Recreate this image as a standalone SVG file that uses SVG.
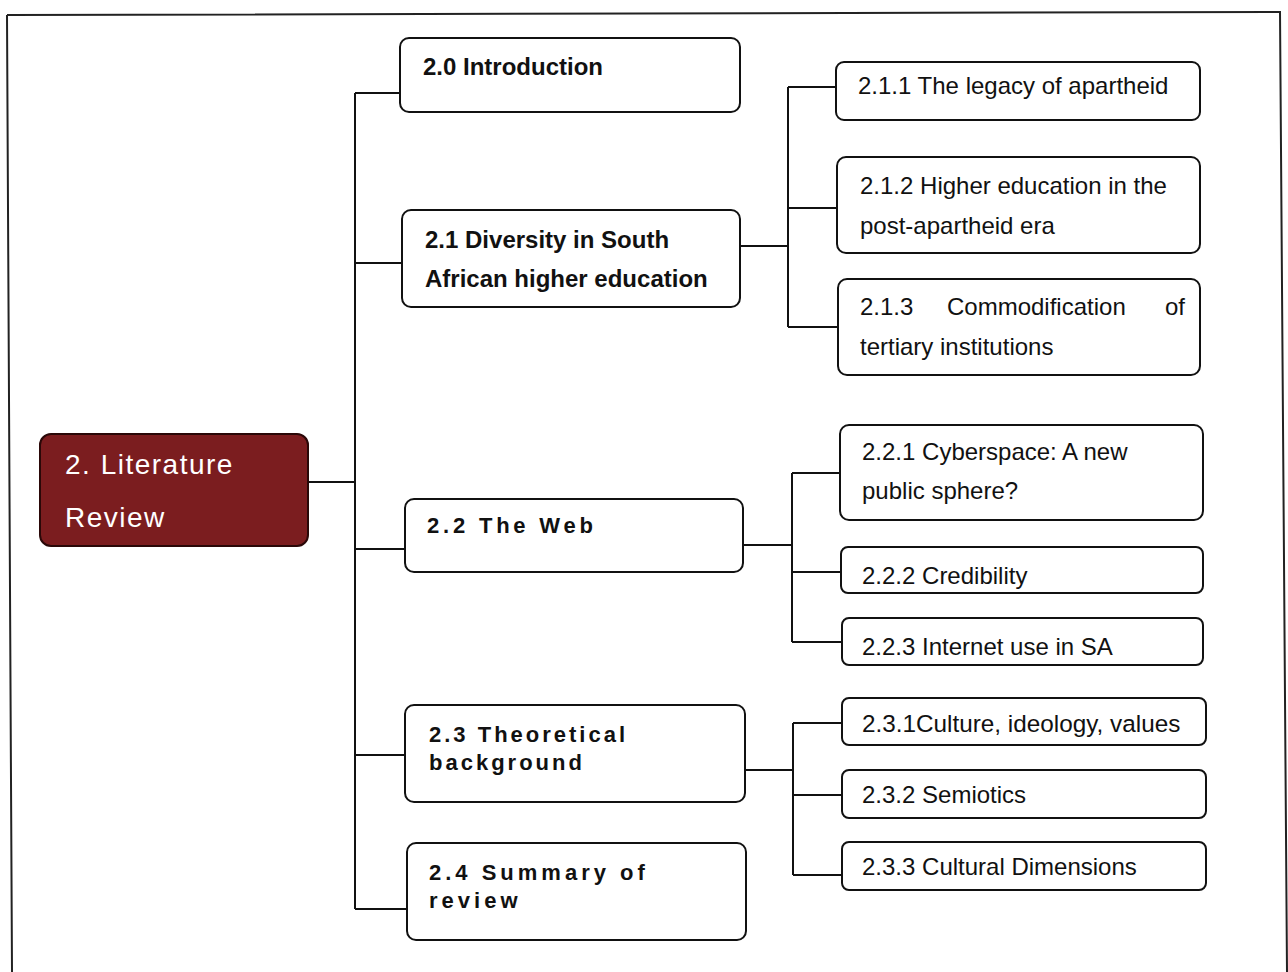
<svg xmlns="http://www.w3.org/2000/svg" width="1288" height="972" viewBox="0 0 1288 972">
<style>
.box{fill:#fff;stroke:#111;stroke-width:2}
.root{fill:#7b1d1f;stroke:#2a0808;stroke-width:2}
.t{font-family:"Liberation Sans",Arial,sans-serif;font-size:24px;fill:#111}
.b{font-weight:bold}
.sp{font-size:22px;letter-spacing:3.5px;font-weight:bold}
.w{font-size:28px;fill:#fff;letter-spacing:1.5px}
.c{fill:none;stroke:#111;stroke-width:2}
.frame{fill:none;stroke:#222;stroke-width:2}
</style>
<rect width="1288" height="972" fill="#fff"/>
<path class="frame" d="M7,15 L1280,12 L1287,972 M7,15 L12,972"/>
<g id="connectors">
<path class="c" d="M308,482 H355 M355,93 V909 M355,93 H400 M355,263 H402 M355,549 H405 M355,755 H405 M355,909 H407"/>
<path class="c" d="M740,246 H788 M788,87 V327 M788,87 H836 M788,208 H837 M788,327 H838"/>
<path class="c" d="M743,545 H792 M792,473 V642 M792,473 H840 M792,572 H841 M792,642 H842"/>
<path class="c" d="M745,770 H793 M793,723 V875 M793,723 H842 M793,795 H842 M793,875 H842"/>
</g>
<g id="root">
<rect class="root" x="40" y="434" width="268" height="112" rx="11"/>
<text class="t w" x="65" y="474">2. Literature</text>
<text class="t w" x="65" y="527">Review</text>
</g>
<g id="n20">
<rect class="box" x="400" y="38" width="340" height="74" rx="9"/>
<text class="t b" x="423" y="75">2.0 Introduction</text>
</g>
<g id="n21">
<rect class="box" x="402" y="210" width="338" height="97" rx="9"/>
<text class="t b" x="425" y="248">2.1 Diversity in South</text>
<text class="t b" x="425" y="287">African higher education</text>
</g>
<g id="n22">
<rect class="box" x="405" y="499" width="338" height="73" rx="9"/>
<text class="t sp" x="427" y="533" style="letter-spacing:3.8px">2.2 The Web</text>
</g>
<g id="n23">
<rect class="box" x="405" y="705" width="340" height="97" rx="9"/>
<text class="t sp" x="429" y="742" style="letter-spacing:3px">2.3 Theoretical</text>
<text class="t sp" x="429" y="770" style="letter-spacing:3px">background</text>
</g>
<g id="n24">
<rect class="box" x="407" y="843" width="339" height="97" rx="9"/>
<text class="t sp" x="429" y="880" style="letter-spacing:4px">2.4 Summary of</text>
<text class="t sp" x="429" y="908" style="letter-spacing:4px">review</text>
</g>
<g id="n211">
<rect class="box" x="836" y="62" width="364" height="58" rx="8"/>
<text class="t" x="858" y="94">2.1.1 The legacy of apartheid</text>
</g>
<g id="n212">
<rect class="box" x="837" y="157" width="363" height="96" rx="9"/>
<text class="t" x="860" y="194">2.1.2 Higher education in the</text>
<text class="t" x="860" y="234">post-apartheid era</text>
</g>
<g id="n213">
<rect class="box" x="838" y="279" width="362" height="96" rx="9"/>
<text class="t" x="860" y="315">2.1.3</text>
<text class="t" x="947" y="315">Commodification</text>
<text class="t" x="1165" y="315">of</text>
<text class="t" x="860" y="355">tertiary institutions</text>
</g>
<g id="n221">
<rect class="box" x="840" y="425" width="363" height="95" rx="9"/>
<text class="t" x="862" y="460">2.2.1 Cyberspace: A new</text>
<text class="t" x="862" y="499">public sphere?</text>
</g>
<g id="n222">
<rect class="box" x="841" y="547" width="362" height="46" rx="7"/>
<text class="t" x="862" y="584">2.2.2 Credibility</text>
</g>
<g id="n223">
<rect class="box" x="842" y="618" width="361" height="47" rx="7"/>
<text class="t" x="862" y="655">2.2.3 Internet use in SA</text>
</g>
<g id="n231">
<rect class="box" x="842" y="698" width="364" height="47" rx="7"/>
<text class="t" x="862" y="732" style="font-size:24.3px">2.3.1Culture, ideology, values</text>
</g>
<g id="n232">
<rect class="box" x="842" y="770" width="364" height="48" rx="7"/>
<text class="t" x="862" y="803">2.3.2 Semiotics</text>
</g>
<g id="n233">
<rect class="box" x="842" y="842" width="364" height="48" rx="7"/>
<text class="t" x="862" y="875">2.3.3 Cultural Dimensions</text>
</g>
</svg>
